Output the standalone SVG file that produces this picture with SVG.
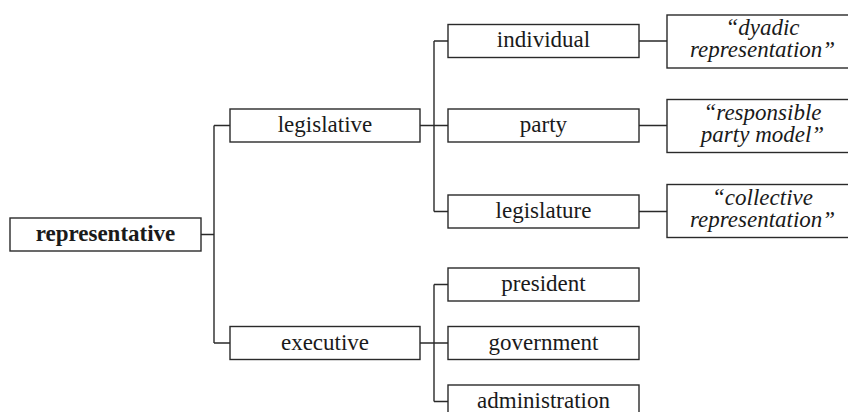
<svg xmlns="http://www.w3.org/2000/svg" width="848" height="412" viewBox="0 0 848 412">
<style>
rect{fill:#fff;stroke:#2a2a2a;stroke-width:1.4}
.c path{fill:none;stroke:#2a2a2a;stroke-width:1.4}
text{font-family:"Liberation Serif","Times New Roman",serif;font-size:23px;fill:#1a1a1a;text-anchor:middle}
.b{font-weight:bold}
.i{font-style:italic}
</style>
<rect x="0" y="0" width="848" height="412" style="fill:#fff;stroke:none"/>
<g class="c" id="connectors">
<path d="M201 234.5H214M214 125.5V343M214 125.5H230M214 343H230"/>
<path d="M420 125.5H448M434 41V211.5M434 41H448M434 211.5H448"/>
<path d="M420 343H448M434 284.5V401.5M434 284.5H448M434 401.5H448"/>
<path d="M639 41H667M639 125.5H667M639 211.5H667"/>
</g>
<g id="representative"><rect x="10" y="218" width="191" height="33"/><text class="b" x="105.5" y="241">representative</text></g>
<g id="legislative"><rect x="230" y="109" width="190" height="33"/><text x="325" y="132">legislative</text></g>
<g id="executive"><rect x="230" y="326.5" width="190" height="33"/><text x="325" y="349.5">executive</text></g>
<g id="individual"><rect x="448" y="24.5" width="191" height="33"/><text x="543.5" y="47">individual</text></g>
<g id="party"><rect x="448" y="109" width="191" height="33"/><text x="543.5" y="132">party</text></g>
<g id="legislature"><rect x="448" y="195" width="191" height="33"/><text x="543.5" y="218">legislature</text></g>
<g id="president"><rect x="448" y="268" width="191" height="33"/><text x="543.5" y="291">president</text></g>
<g id="government"><rect x="448" y="326.5" width="191" height="33"/><text x="543.5" y="349.5">government</text></g>
<g id="administration"><rect x="448" y="385" width="191" height="33"/><text x="543.5" y="408">administration</text></g>
<g id="dyadic"><rect x="667" y="15" width="191" height="53"/><text class="i" x="762.5" y="35">“dyadic</text><text class="i" x="762.5" y="57">representation”</text></g>
<g id="responsible"><rect x="667" y="99.5" width="191" height="53"/><text class="i" x="762.5" y="119.5">“responsible</text><text class="i" x="762.5" y="141.5">party model”</text></g>
<g id="collective"><rect x="667" y="184.5" width="191" height="53"/><text class="i" x="762.5" y="204.5">“collective</text><text class="i" x="762.5" y="226.5">representation”</text></g>
</svg>
